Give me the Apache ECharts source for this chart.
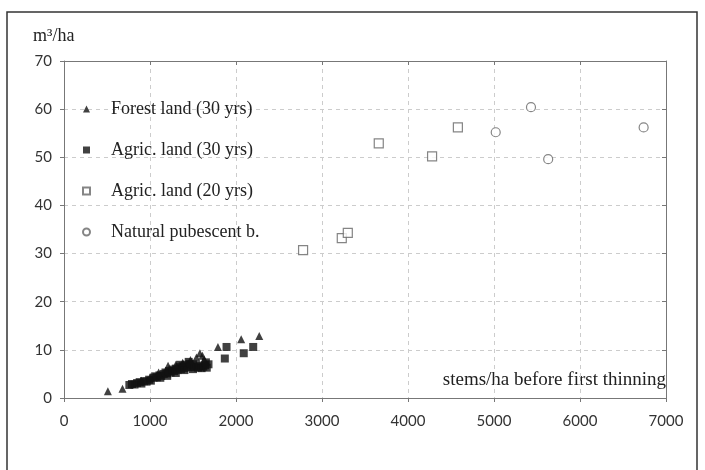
<!DOCTYPE html>
<html><head><meta charset="utf-8">
<script src="https://cdn.jsdelivr.net/npm/echarts@6/dist/echarts.min.js"></script>
<style>html,body{margin:0;padding:0;background:#fff}#c{width:705px;height:470px}</style>
</head><body><div id="c"></div>
<script>
const seriesNames = ["Forest land (30 yrs)", "Agric. land (30 yrs)", "Agric. land (20 yrs)", "Natural pubescent b."];
const xTicks = [0, 1000, 2000, 3000, 4000, 5000, 6000, 7000];
const yTicks = [0, 10, 20, 30, 40, 50, 60, 70];
const forest30 = [[510,1.4],[680,1.9],[900,3.6],[1000,4.2],[1100,5.3],[1210,6.7],[1300,6.9],[1380,7.3],[1470,7.9],[1540,8.4],[1580,9.3],[1610,8.8],[1630,8.0],[1790,10.6],[2060,12.2],[2270,12.9]];
const agric30 = [[760,2.7],[790,2.9],[820,2.8],[850,3.1],[880,3.3],[900,3.0],[930,3.5],[960,3.4],[990,3.8],[1010,3.6],[1040,4.2],[1060,4.5],[1080,4.3],[1110,4.7],[1120,4.2],[1130,4.6],[1160,5.0],[1180,5.3],[1200,5.1],[1200,4.6],[1220,5.6],[1240,5.3],[1260,5.9],[1280,5.6],[1300,6.1],[1300,5.2],[1320,5.8],[1340,6.4],[1350,6.9],[1360,6.0],[1380,6.6],[1400,6.2],[1400,5.8],[1420,6.9],[1440,6.4],[1450,7.5],[1460,7.1],[1480,6.5],[1500,7.0],[1500,6.0],[1520,6.4],[1540,6.8],[1560,6.3],[1580,6.6],[1600,6.2],[1620,6.5],[1640,6.8],[1650,7.4],[1660,6.3],[1680,7.0],[1870,8.2],[1890,10.6],[2090,9.3],[2200,10.6]];
const agric20 = [[2780,30.7],[3230,33.2],[3300,34.3],[3660,52.9],[4280,50.2],[4580,56.2]];
const natural = [[5020,55.2],[5430,60.4],[5630,49.6],[6740,56.2]];

const chart = echarts.init(document.getElementById('c'), null, {renderer:'canvas'});
const numFont = 'Lato, "Liberation Sans", sans-serif';
const serif = '"Liberation Serif", "DejaVu Serif", serif';
const gridLine = {show:true, lineStyle:{color:'#cccccc', type:[4,4], width:1}};
function xAxis(inside, labels){
  return {type:'value', min:xTicks[0], max:xTicks[xTicks.length-1], interval:1000,
    axisLine:{show:true, onZero:false, lineStyle:{color:'#777', width:1}},
    axisTick:{show:true, inside:inside, length:4, lineStyle:{color:'#777'}},
    axisLabel:{show:labels, margin:16, color:'#333', fontFamily:numFont, fontSize:15, formatter:v=>String(v)},
    splitLine: labels ? gridLine : {show:false}};
}
function yAxis(inside, labels){
  return {type:'value', min:yTicks[0], max:yTicks[yTicks.length-1], interval:10,
    axisLine:{show:true, onZero:false, lineStyle:{color:'#777', width:1}},
    axisTick:{show:true, inside:inside, length:4, lineStyle:{color:'#777'}},
    axisLabel:{show:labels, margin:12, color:'#333', fontFamily:numFont, fontSize:15, formatter:v=>String(v)},
    splitLine: labels ? gridLine : {show:false}};
}
const option = {
  animation:false,
  backgroundColor:'#fff',
  grid:{left:64, top:61, width:602, height:337, containLabel:false},
  xAxis:[xAxis(false,true), xAxis(true,false)],
  yAxis:[yAxis(false,true), yAxis(true,false)],
  legend:{orient:'vertical', left:77, top:95, itemWidth:7, itemHeight:7, itemGap:23,
    textStyle:{fontFamily:serif, fontSize:18, color:'#222', lineHeight:18, padding:[0,0,0,16]},
    data:seriesNames},
  graphic:[
    {type:'rect', shape:{x:7, y:12, width:690, height:470}, style:{fill:'none', stroke:'#333', lineWidth:1.5}, silent:true},
    {type:'text', left:33, top:27, style:{text:'m³/ha', font:'18px "Liberation Serif", serif', fill:'#222'}},
    {type:'text', right:39, top:371, style:{text:'stems/ha before first thinning', font:'19px "Liberation Serif", serif', fill:'#222'}}
  ],
  series:[
    {name:seriesNames[0], type:'scatter', data:forest30, symbol:'triangle', symbolSize:8, itemStyle:{color:'#111'}, z:3},
    {name:seriesNames[1], type:'scatter', data:agric30, symbol:'rect', symbolSize:8, itemStyle:{color:'#111'}, z:2},
    {name:seriesNames[2], type:'scatter', data:agric20, symbol:'rect', symbolSize:9, itemStyle:{color:'#fff', borderColor:'#666', borderWidth:1.2}},
    {name:seriesNames[3], type:'scatter', data:natural, symbol:'circle', symbolSize:9, itemStyle:{color:'#fff', borderColor:'#666', borderWidth:1.2}}
  ]
};
chart.setOption(option);
</script></body></html>
